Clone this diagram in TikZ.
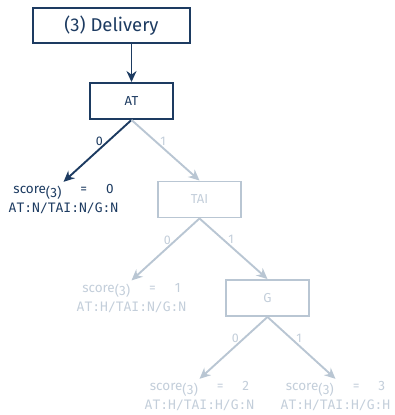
\documentclass[tikz,border=0pt]{standalone}
\usepackage{fontspec}
\setmainfont{Fira Sans}
\setmonofont{DejaVu Sans Mono}
\usetikzlibrary{arrows.meta}
\definecolor{navy}{HTML}{1D3B61}
\definecolor{faded}{HTML}{B9C6D3}
\definecolor{fadedtext}{HTML}{C3CEDA}

\begin{document}
\begin{tikzpicture}[->, >={Stealth[length=11pt, width=10pt]}, node distance=98.5pt, line width=1.9pt,
  box/.style={rectangle, draw=navy, text=navy, minimum width=83pt, minimum height=36pt, font=\fontsize{13}{15}\selectfont},
  leaf/.style={align=center, text=navy, inner sep=2pt, font=\fontsize{13.5}{19}\selectfont},
  off/.style={draw=faded, text=fadedtext},
  offtext/.style={text=fadedtext},
  lbl/.style={font=\fontsize{12.5}{14}\selectfont, inner sep=4pt}]

  \useasboundingbox (0,0) rectangle (394pt,-415pt);

  \node[box, minimum width=157pt, minimum height=35pt, font=\fontsize{18.5}{22}\selectfont] (Delivery) at (111.5pt,-25.5pt) {(3) Delivery};
  \node[box] (AT) [below of=Delivery, xshift=20pt, yshift=23pt] {AT};
  \node[leaf] (L0) [below of=AT, xshift=-68pt] {score\raisebox{-0.45ex}{(3)}\hspace{1.4em}=\hspace{1.4em}0\\\fontsize{13}{19}\selectfont\texttt{AT:N/TAI:N/G:N}};
  \node[box, off] (TAI) [below of=AT, xshift=68pt] {TAI};
  \node[leaf, offtext] (L1) [below of=TAI, xshift=-68pt] {score\raisebox{-0.45ex}{(3)}\hspace{1.4em}=\hspace{1.4em}1\\\fontsize{13}{19}\selectfont\texttt{AT:H/TAI:N/G:N}};
  \node[box, off] (G) [below of=TAI, xshift=68pt] {G};
  \node[leaf, offtext] (L2) [below of=G, xshift=-68pt] {score\raisebox{-0.45ex}{(3)}\hspace{1.4em}=\hspace{1.4em}2\\\fontsize{13}{19}\selectfont\texttt{AT:H/TAI:H/G:N}};
  \node[leaf, offtext] (L3) [below of=G, xshift=68pt] {score\raisebox{-0.45ex}{(3)}\hspace{1.4em}=\hspace{1.4em}3\\\fontsize{13}{19}\selectfont\texttt{AT:H/TAI:H/G:H}};

  \draw[navy] (AT |- Delivery.south) -- (AT.north);

  \path (AT.south)  edge [navy] node [lbl, pos=0.35, left]  {0} (L0.north)
                    edge [off]  node [lbl, pos=0.35, right] {1} (TAI.north)
        (TAI.south) edge [off]  node [lbl, pos=0.35, left]  {0} (L1.north)
                    edge [off]  node [lbl, pos=0.35, right] {1} (G.north)
        (G.south)   edge [off]  node [lbl, pos=0.35, left]  {0} (L2.north)
                    edge [off]  node [lbl, pos=0.35, right] {1} (L3.north);

\end{tikzpicture}
\end{document}
